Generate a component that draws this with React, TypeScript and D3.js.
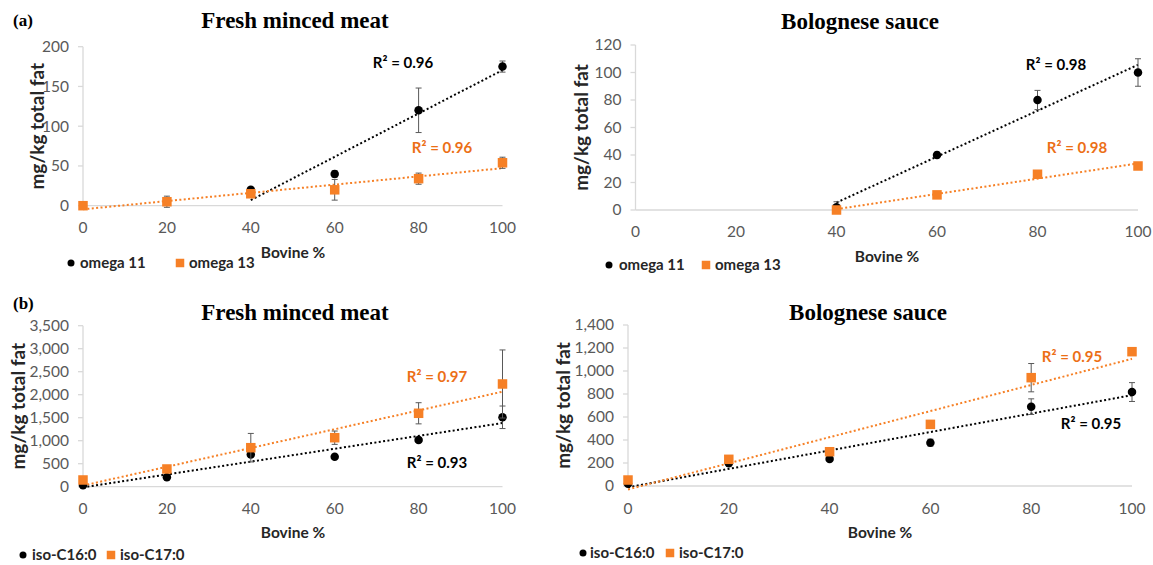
import { useEffect } from "react";
import * as d3 from "d3";

// Bovine share of the blend (x axis)
const bovinePct = [0, 20, 40, 60, 80, 100];

// (a) omega fatty acids, mg/kg total fat
const omega11Fresh = [null, null, 20, 40, 120, 175];
const omega11FreshErr = [null, null, 3, 4, 28, 7];
const omega13Fresh = [0, 5, 15, 20, 34, 54];
const omega13FreshErr = [1, 7, 3, 13, 7, 7];

const omega11Sauce = [null, null, 2, 40, 80, 100];
const omega11SauceErr = [null, null, 4, 2, 7, 10];
const omega13Sauce = [null, null, 0, 11, 26, 32];
const omega13SauceErr = [null, null, 1, 1, 1, 1];

// (b) iso fatty acids, mg/kg total fat
const isoC16Fresh = [30, 204, 700, 652, 1015, 1509];
const isoC16FreshErr = [20, 50, 40, 30, 40, 245];
const isoC17Fresh = [146, 385, 848, 1065, 1596, 2233];
const isoC17FreshErr = [30, 40, 310, 145, 230, 740];

const isoC16Sauce = [20, 197, 235, 377, 690, 817];
const isoC16SauceErr = [5, 15, 15, 30, 68, 82];
const isoC17Sauce = [52, 232, 298, 536, 942, 1168];
const isoC17SauceErr = [5, 15, 15, 25, 123, 15];

const r2Labels = {
  omega11Fresh: "0.96",
  omega13Fresh: "0.96",
  omega11Sauce: "0.98",
  omega13Sauce: "0.98",
  isoC16Fresh: "0.93",
  isoC17Fresh: "0.97",
  isoC16Sauce: "0.95",
  isoC17Sauce: "0.95",
};

const BLACK = "#000000";
const ORANGE = "#f68026";
const ORANGE_TEXT = "#ec6f16";
const AXIS = "#d9d9d9";
const TICK_TEXT = "#595959";
const ERR = "#595959";
const SANS = "Lato, 'Open Sans', sans-serif";
const SERIF = "'Liberation Serif', 'DejaVu Serif', serif";

type Series = {
  name: string;
  values: (number | null)[];
  errors: (number | null)[];
  color: string;
  textColor: string;
  shape: "circle" | "square";
  r2: string;
  r2Pos: [number, number];
  legend: [number, number]; // marker x, text x
};

type PanelCfg = {
  tag?: [string, number, number];
  title: string;
  titlePos: [number, number];
  xRange: [number, number];
  yRange: [number, number];
  yMax: number;
  yStep: number;
  fmt: (n: number) => string;
  yTitleX: number;
  xLabelY: number;
  xTitlePos: [number, number];
  legendY: number;
  series: Series[];
};

const plain = d3.format("d");
const comma = d3.format(",");

const panels: PanelCfg[] = [
  {
    tag: ["(a)", 13, 20],
    title: "Fresh minced meat",
    titlePos: [295, 20],
    xRange: [83, 502.5],
    yRange: [205.7, 46.7],
    yMax: 200,
    yStep: 50,
    fmt: plain,
    yTitleX: 37.5,
    xLabelY: 228,
    xTitlePos: [293, 253],
    legendY: 263,
    series: [
      { name: "omega 11", values: omega11Fresh, errors: omega11FreshErr, color: BLACK, textColor: BLACK, shape: "circle", r2: r2Labels.omega11Fresh, r2Pos: [403, 63], legend: [71, 80] },
      { name: "omega 13", values: omega13Fresh, errors: omega13FreshErr, color: ORANGE, textColor: ORANGE_TEXT, shape: "square", r2: r2Labels.omega13Fresh, r2Pos: [442, 148], legend: [180, 189] },
    ],
  },
  {
    title: "Bolognese sauce",
    titlePos: [860, 21],
    xRange: [635.5, 1138],
    yRange: [210, 45],
    yMax: 120,
    yStep: 20,
    fmt: plain,
    yTitleX: 581,
    xLabelY: 232,
    xTitlePos: [887, 257],
    legendY: 265,
    series: [
      { name: "omega 11", values: omega11Sauce, errors: omega11SauceErr, color: BLACK, textColor: BLACK, shape: "circle", r2: r2Labels.omega11Sauce, r2Pos: [1056, 65], legend: [609, 619] },
      { name: "omega 13", values: omega13Sauce, errors: omega13SauceErr, color: ORANGE, textColor: ORANGE_TEXT, shape: "square", r2: r2Labels.omega13Sauce, r2Pos: [1077, 148], legend: [706, 715] },
    ],
  },
  {
    tag: ["(b)", 13, 303],
    title: "Fresh minced meat",
    titlePos: [295, 312],
    xRange: [83, 502.5],
    yRange: [486.7, 325.7],
    yMax: 3500,
    yStep: 500,
    fmt: comma,
    yTitleX: 18,
    xLabelY: 509,
    xTitlePos: [293, 533],
    legendY: 555,
    series: [
      { name: "iso-C16:0", values: isoC16Fresh, errors: isoC16FreshErr, color: BLACK, textColor: BLACK, shape: "circle", r2: r2Labels.isoC16Fresh, r2Pos: [437, 463], legend: [23, 32] },
      { name: "iso-C17:0", values: isoC17Fresh, errors: isoC17FreshErr, color: ORANGE, textColor: ORANGE_TEXT, shape: "square", r2: r2Labels.isoC17Fresh, r2Pos: [437, 377], legend: [111, 120] },
    ],
  },
  {
    title: "Bolognese sauce",
    titlePos: [868, 312],
    xRange: [628, 1132],
    yRange: [486, 325],
    yMax: 1400,
    yStep: 200,
    fmt: comma,
    yTitleX: 563,
    xLabelY: 509,
    xTitlePos: [880, 533],
    legendY: 553,
    series: [
      { name: "iso-C16:0", values: isoC16Sauce, errors: isoC16SauceErr, color: BLACK, textColor: BLACK, shape: "circle", r2: r2Labels.isoC16Sauce, r2Pos: [1091, 424], legend: [583, 590] },
      { name: "iso-C17:0", values: isoC17Sauce, errors: isoC17SauceErr, color: ORANGE, textColor: ORANGE_TEXT, shape: "square", r2: r2Labels.isoC17Sauce, r2Pos: [1072, 357], legend: [670, 679] },
    ],
  },
];

// least-squares line through the available points (Excel linear trendline)
function fit(values: (number | null)[]) {
  const pts = bovinePct
    .map((b, i) => [b, values[i]] as [number, number | null])
    .filter((d) => d[1] != null) as [number, number][];
  const mx = d3.mean(pts, (d) => d[0])!;
  const my = d3.mean(pts, (d) => d[1])!;
  const sxy = d3.sum(pts, (d) => (d[0] - mx) * (d[1] - my));
  const sxx = d3.sum(pts, (d) => (d[0] - mx) ** 2);
  const slope = sxy / sxx;
  const icpt = my - slope * mx;
  const x0 = d3.min(pts, (d) => d[0])!;
  const x1 = d3.max(pts, (d) => d[0])!;
  return [
    [x0, icpt + slope * x0],
    [x1, icpt + slope * x1],
  ] as [number, number][];
}

function Marker({ s, cx, cy, size }: { s: Series; cx: number; cy: number; size: number }) {
  if (s.shape === "circle")
    return <circle cx={cx} cy={cy} r={size / 2} fill={s.color} />;
  return <rect x={cx - size / 2} y={cy - size / 2} width={size} height={size} fill={s.color} />;
}

function Panel({ p }: { p: PanelCfg }) {
  const x = d3.scaleLinear().domain([0, 100]).range(p.xRange);
  const y = d3.scaleLinear().domain([0, p.yMax]).range(p.yRange);
  const yTicks = d3.range(0, p.yMax + p.yStep / 2, p.yStep);
  const line = d3
    .line<[number, number]>()
    .x((d) => x(d[0]))
    .y((d) => y(d[1]));
  const plotMidY = (p.yRange[0] + p.yRange[1]) / 2;

  return (
    <g>
      {p.tag && (
        <text x={p.tag[1]} y={p.tag[2]} dy="0.35em" fontFamily={SERIF} fontWeight="bold" fontSize={17}>
          {p.tag[0]}
        </text>
      )}
      <text x={p.titlePos[0]} y={p.titlePos[1]} dy="0.35em" textAnchor="middle" fontFamily={SERIF} fontWeight="bold" fontSize={23}>
        {p.title}
      </text>

      {/* axes */}
      <line x1={x(0)} x2={x(100)} y1={y(0)} y2={y(0)} stroke={AXIS} strokeWidth={1.3} />
      <line x1={x(0)} x2={x(0)} y1={y(0)} y2={y(p.yMax)} stroke={AXIS} strokeWidth={1.3} />
      {yTicks.map((t) => (
        <g key={t}>
          <line x1={x(0) - 5} x2={x(0)} y1={y(t)} y2={y(t)} stroke={AXIS} strokeWidth={1.3} />
          <text x={x(0) - 14} y={y(t)} dy="0.35em" textAnchor="end" fontFamily={SANS} fontSize={15.5} fill={TICK_TEXT}>
            {p.fmt(t)}
          </text>
        </g>
      ))}
      {bovinePct.map((b) => (
        <text key={b} x={x(b)} y={p.xLabelY} dy="0.35em" textAnchor="middle" fontFamily={SANS} fontSize={15.5} fill={TICK_TEXT}>
          {b}
        </text>
      ))}
      <text
        transform={`translate(${p.yTitleX},${plotMidY}) rotate(-90)`}
        dy="0.35em"
        textAnchor="middle"
        fontFamily={SANS}
        fontWeight="bold"
        fontSize={19}
        fill="#262626"
      >
        mg/kg total fat
      </text>
      <text x={p.xTitlePos[0]} y={p.xTitlePos[1]} dy="0.35em" textAnchor="middle" fontFamily={SANS} fontWeight="bold" fontSize={15.5} fill="#262626">
        Bovine %
      </text>

      {/* trendlines */}
      {p.series.map((s) => (
        <path
          key={s.name + "trend"}
          d={line(fit(s.values)) ?? ""}
          fill="none"
          stroke={s.color}
          strokeWidth={2}
          strokeDasharray="2 2.4"
        />
      ))}

      {/* points with error bars */}
      {p.series.map((s) => (
        <g key={s.name}>
          {bovinePct.map((b, i) => {
            const v = s.values[i];
            const e = s.errors[i] ?? 0;
            if (v == null) return null;
            const cx = x(b);
            return (
              <g key={b}>
                {e > 0 && (
                  <g stroke={ERR} strokeWidth={1}>
                    <line x1={cx} x2={cx} y1={y(v - e)} y2={y(v + e)} />
                    <line x1={cx - 3} x2={cx + 3} y1={y(v - e)} y2={y(v - e)} />
                    <line x1={cx - 3} x2={cx + 3} y1={y(v + e)} y2={y(v + e)} />
                  </g>
                )}
                <Marker s={s} cx={cx} cy={y(v)} size={s.shape === "circle" ? 8.5 : 9.5} />
              </g>
            );
          })}
        </g>
      ))}

      {/* R² labels */}
      {p.series.map((s) => (
        <text
          key={s.name + "r2"}
          x={s.r2Pos[0]}
          y={s.r2Pos[1]}
          dy="0.35em"
          textAnchor="middle"
          fontFamily={SANS}
          fontWeight="bold"
          fontSize={15}
          fill={s.textColor}
        >
          R² = {s.r2}
        </text>
      ))}

      {/* legend */}
      {p.series.map((s) => (
        <g key={s.name + "legend"}>
          <Marker s={s} cx={s.legend[0]} cy={p.legendY} size={s.shape === "circle" ? 7 : 8.5} />
          <text x={s.legend[1]} y={p.legendY} dy="0.35em" fontFamily={SANS} fontWeight="bold" fontSize={15} fill="#262626">
            {s.name}
          </text>
        </g>
      ))}
    </g>
  );
}

export default function App() {
  useEffect(() => {
    document.body.style.margin = "0";
  }, []);
  return (
    <svg width={1153} height={565} viewBox="0 0 1153 565" style={{ display: "block", background: "#fff" }}>
      {panels.map((p, i) => (
        <Panel key={i} p={p} />
      ))}
    </svg>
  );
}
